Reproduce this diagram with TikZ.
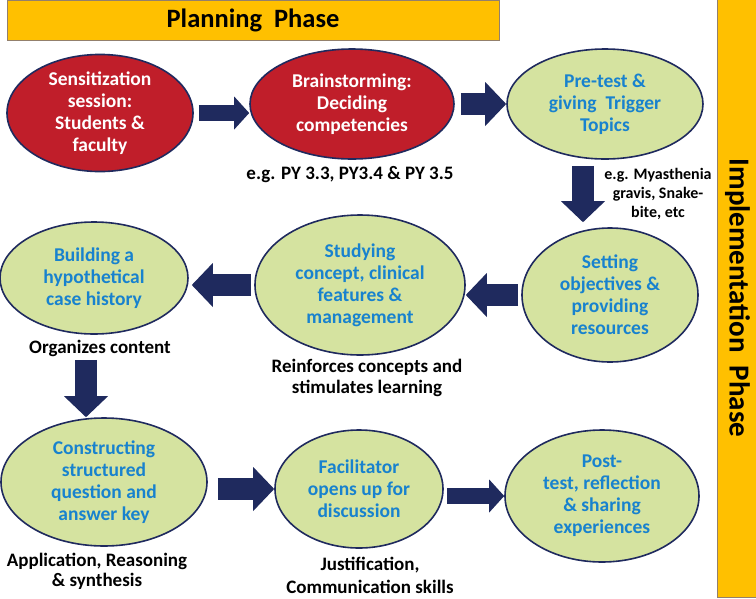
\documentclass[tikz,border=0pt]{standalone}
\usepackage{fontspec}
\setmainfont{Carlito}
\usetikzlibrary{shapes.geometric,arrows.meta}

\definecolor{gold}{RGB}{255,192,0}
\definecolor{navy}{RGB}{31,42,94}
\definecolor{redfill}{RGB}{192,30,42}
\definecolor{greenfill}{RGB}{213,227,160}
\definecolor{textblue}{RGB}{24,130,206}

\begin{document}
\begin{tikzpicture}[x=1pt,y=-1pt,
    ell/.style={ellipse,draw=navy,line width=1.6pt,inner sep=0pt,align=center,font=\fontsize{19.5}{22}\selectfont\bfseries},
    redell/.style={ell,fill=redfill,text=white},
    grnell/.style={ell,fill=greenfill,text=textblue},
    lbl/.style={align=center,font=\fontsize{19}{21}\selectfont\bfseries},
    bar/.style={draw=gray!70!brown,fill=gold,line width=1pt,inner sep=0pt,font=\fontsize{26.5}{30}\selectfont\bfseries},
    arr/.style={draw=navy,line width=22pt,-{Triangle[length=21pt,width=44pt,line width=0pt]}},
    arrs/.style={draw=navy,line width=16pt,-{Triangle[length=15pt,width=33pt,line width=0pt]}}]
    \useasboundingbox (0,0) rectangle (756,598);

    \node[bar,minimum width=492pt,minimum height=40pt] (plan) at (253,20) {Planning\ \ Phase};
    \node[bar,rotate=-90,minimum width=598pt,minimum height=41pt,font=\fontsize{29}{32}\selectfont\bfseries] (impl) at (737.5,298) {Implementation\ \ Phase};

    \node[redell,minimum width=186pt,minimum height=104pt] (sens) at (100,113) {Sensitization\\session:\\Students \&\\faculty};
    \node[redell,minimum width=204pt,minimum height=110pt] (brain) at (352,104) {Brainstorming:\\Deciding\\competencies};
    \node[grnell,minimum width=196pt,minimum height=110pt] (pretest) at (605,104) {Pre-test \&\\giving\ \ Trigger\\Topics};
    \node[grnell,minimum width=176pt,minimum height=134pt] (obj) at (610,295) {Setting\\objectives \&\\providing\\resources};
    \node[grnell,minimum width=210pt,minimum height=140pt] (study) at (360,285) {Studying\\concept, clinical\\features \&\\management};
    \node[grnell,minimum width=188pt,minimum height=112pt] (build) at (94,278) {Building a\\hypothetical\\case history};
    \node[grnell,minimum width=206pt,minimum height=128pt] (cons) at (104,482) {Constructing\\structured\\question and\\answer key};
    \node[grnell,minimum width=168pt,minimum height=118pt] (facil) at (359,489) {Facilitator\\opens up for\\discussion};
    \node[grnell,minimum width=194pt,minimum height=132pt] (post) at (602,496) {Post-\\test, reflection\\\& sharing\\experiences};

    \node[lbl] (pylbl) at (350,175) {e.g. PY 3.3, PY3.4 \& PY 3.5};
    \node[lbl,font=\fontsize{16}{19}\selectfont\bfseries] (eglbl) at (658,194) {e.g. Myasthenia\\gravis, Snake-\\bite, etc};
    \node[lbl] (orglbl) at (100,348) {Organizes content};
    \node[lbl] (reinlbl) at (367,378) {Reinforces concepts and\\stimulates learning};
    \node[lbl,font=\fontsize{19}{20}\selectfont\bfseries] (applbl) at (97,571) {Application, Reasoning\\\& synthesis};
    \node[lbl,font=\fontsize{19}{23}\selectfont\bfseries] (justlbl) at (370,575) {Justification,\\Communication skills};

    \draw[arrs,shorten <=5pt] (sens.east) -- (sens.east -| brain.west);
    \draw[arr,shorten <=6pt] (brain.east) -- (pretest.west);
    \draw[arr,shorten <=6pt,shorten >=5pt] ([xshift=-22pt]pretest.south) -- ([xshift=-27pt]obj.north);
    \draw[arr,shorten <=3pt] (obj.west) -- (obj.west -| study.east);
    \draw[arr,shorten <=3pt,shorten >=3pt] (study.west) -- (study.west -| build.east);
    \draw[arr] ([xshift=-14pt]orglbl.south) -- ([xshift=-18pt]cons.north);
    \draw[arr,shorten <=10pt] (cons.east |- facil.west) -- (facil.west);
    \draw[arrs,shorten <=3pt] (facil.east |- post.west) -- (post.west);
\end{tikzpicture}
\end{document}
